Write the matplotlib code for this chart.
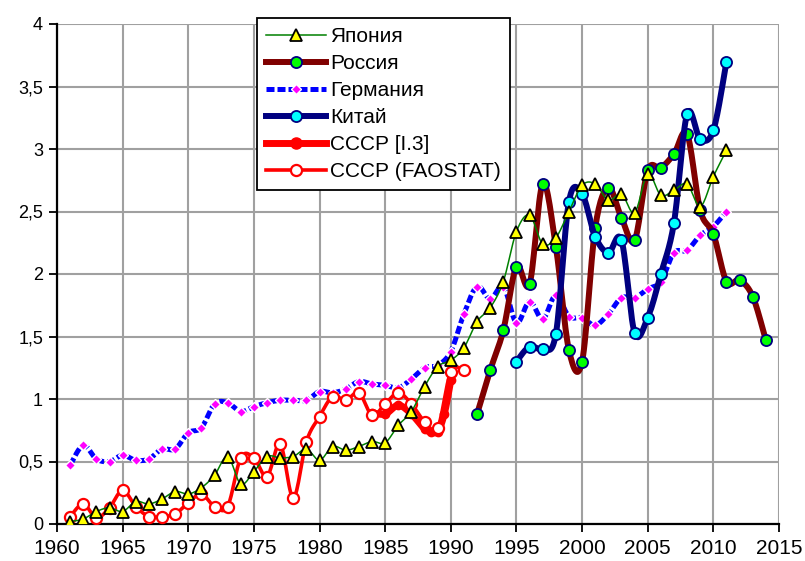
import numpy as np
import matplotlib
matplotlib.use("Agg")
import matplotlib.pyplot as plt
from matplotlib.ticker import FuncFormatter

plt.rcParams['font.family'] = ['Liberation Sans', 'DejaVu Sans']

# ---- data ----
years_japan = list(range(1961, 2012))
japan = [0.02, 0.04, 0.10, 0.13, 0.10, 0.18, 0.16, 0.20, 0.26, 0.24,
         0.29, 0.39, 0.54, 0.32, 0.42, 0.54, 0.53, 0.54, 0.60, 0.51,
         0.62, 0.59, 0.62, 0.66, 0.65, 0.79, 0.90, 1.10, 1.26, 1.31,
         1.41, 1.62, 1.73, 1.94, 2.34, 2.47, 2.24, 2.29, 2.50, 2.71,
         2.72, 2.59, 2.64, 2.49, 2.80, 2.63, 2.67, 2.72, 2.54, 2.78,
         2.99]

years_russia = list(range(1992, 2015))
russia = [0.88, 1.23, 1.55, 2.06, 1.92, 2.72, 2.22, 1.39, 1.30, 2.37,
          2.69, 2.45, 2.27, 2.83, 2.85, 2.96, 3.12, 2.51, 2.32, 1.94,
          1.95, 1.82, 1.47]

years_germany = list(range(1961, 2012))
germany = [0.47, 0.63, 0.52, 0.50, 0.55, 0.51, 0.52, 0.60, 0.60, 0.73,
           0.77, 0.96, 0.97, 0.90, 0.94, 0.97, 0.99, 0.99, 0.99, 1.06,
           1.05, 1.08, 1.14, 1.12, 1.11, 1.09, 1.16, 1.25, 1.27, 1.38,
           1.68, 1.90, 1.80, 1.90, 1.61, 1.78, 1.64, 1.83, 1.66, 1.65,
           1.59, 1.68, 1.81, 1.81, 1.88, 1.94, 2.17, 2.19, 2.31, 2.38,
           2.50]

years_china = list(range(1995, 2012))
china = [1.30, 1.42, 1.40, 1.52, 2.58, 2.64, 2.30, 2.17, 2.27, 1.53,
         1.65, 2.00, 2.41, 3.28, 3.08, 3.15, 3.70]

years_ussr_i3 = [1984, 1985, 1986, 1987, 1988, 1988.5, 1989, 1989.5, 1990]
ussr_i3 = [0.89, 0.88, 0.95, 0.88, 0.76, 0.74, 0.74, 0.88, 1.15]

years_ussr_fao = list(range(1961, 1992))
ussr_fao = [0.06, 0.16, 0.05, 0.13, 0.27, 0.14, 0.06, 0.06, 0.08, 0.17,
            0.24, 0.14, 0.14, 0.53, 0.53, 0.38, 0.64, 0.21, 0.66, 0.86,
            1.02, 0.99, 1.05, 0.87, 0.96, 1.05, 0.96, 0.82, 0.77, 1.22,
            1.23]


# Excel-like smoothed line (Catmull-Rom through the points)
def smooth(x, y, n=16):
    x = np.asarray(x, float)
    y = np.asarray(y, float)
    px = np.concatenate([[x[0]], x, [x[-1]]])
    py = np.concatenate([[y[0]], y, [y[-1]]])
    t = np.linspace(0, 1, n)
    xs, ys = [], []
    for i in range(len(x) - 1):
        x0, x1, x2, x3 = px[i:i + 4]
        y0, y1, y2, y3 = py[i:i + 4]
        cx1, cy1 = x1 + (x2 - x0) / 6, y1 + (y2 - y0) / 6
        cx2, cy2 = x2 - (x3 - x1) / 6, y2 - (y3 - y1) / 6
        b0 = (1 - t) ** 3
        b1 = 3 * (1 - t) ** 2 * t
        b2 = 3 * (1 - t) * t ** 2
        b3 = t ** 3
        xs.append(b0 * x1 + b1 * cx1 + b2 * cx2 + b3 * x2)
        ys.append(b0 * y1 + b1 * cy1 + b2 * cy2 + b3 * y2)
    return np.concatenate(xs), np.concatenate(ys)


fig = plt.figure(figsize=(8.05, 5.61), dpi=100)
ax = fig.add_axes([57 / 805, 37 / 561, 722 / 805, 500 / 561])


def series(x, y, label, z, lw, color, ls='-', marker='o', ms=7,
           mfc='w', mec='k', mew=1.2, leg_ms=None):
    sx, sy = smooth(x, y)
    ax.plot(sx, sy, color=color, lw=lw, ls=ls, zorder=z,
            solid_capstyle='round', dash_capstyle='butt')
    ax.plot(x, y, ls='none', marker=marker, ms=ms, mfc=mfc, mec=mec,
            mew=mew, zorder=z + 0.5)
    # proxy for the legend
    return ax.plot([], [], color=color, lw=lw, ls=ls, marker=marker,
                   ms=leg_ms or ms, mfc=mfc, mec=mec, mew=mew,
                   label=label)[0]


h_de = series(years_germany, germany, 'Германия', 3, 3.6, '#0000ff',
              ls=(0, (1.6, 0.6)), marker='D', ms=5.5, mfc='#ff00ff',
              mec='white', mew=1.0)
h_ru = series(years_russia, russia, 'Россия', 4, 4.3, '#800000',
              marker='o', ms=8, mfc='#00ff00', mec='#000080', mew=1.3)
h_cn = series(years_china, china, 'Китай', 5, 4.3, '#000080',
              marker='o', ms=8, mfc='#00ffff', mec='#000080', mew=1.3)
h_i3 = series(years_ussr_i3, ussr_i3, 'СССР [I.3]', 6, 5.0, '#ff0000',
              marker='o', ms=6, mfc='#ff0000', mec='#ff0000', mew=1,
              leg_ms=8)
h_fao = series(years_ussr_fao, ussr_fao, 'СССР (FAOSTAT)', 7, 2.6, '#ff0000',
               marker='o', ms=8, mfc='white', mec='#ff0000', mew=1.6)
h_jp = series(years_japan, japan, 'Япония', 8, 1.1, '#008000',
              marker='^', ms=9, mfc='#ffff00', mec='black', mew=1.3)

ax.set_xlim(1960, 2015)
ax.set_ylim(0, 4)
ax.set_xticks(np.arange(1960, 2016, 5))
ax.set_yticks(np.arange(0, 4.01, 0.5))
ax.yaxis.set_major_formatter(FuncFormatter(
    lambda v, p: ('%g' % v).replace('.', ',')))

ax.grid(True, color='#a0a0a0', lw=1.5)
ax.set_axisbelow(True)
for s in ['top', 'right']:
    ax.spines[s].set_visible(False)
for s in ['left', 'bottom']:
    ax.spines[s].set_linewidth(1.6)
    ax.spines[s].set_color('black')

ax.tick_params(axis='both', direction='out', length=6, width=1.3,
               colors='black')
ax.tick_params(axis='y', labelsize=13, pad=4)
ax.tick_params(axis='x', labelsize=13, pad=5)
for lab in ax.get_xticklabels():
    lab.set_family(['Liberation Sans Narrow', 'Liberation Sans'])
    lab.set_fontsize(15)

leg = fig.legend(handles=[h_jp, h_ru, h_de, h_cn, h_i3, h_fao],
                 loc='upper left', bbox_to_anchor=(257 / 805, 1 - 18 / 561),
                 borderaxespad=0, fontsize=15, numpoints=1,
                 handlelength=2.85, handletextpad=0.2, labelspacing=0.38,
                 borderpad=0.45, fancybox=False, framealpha=1,
                 edgecolor='black')
leg.get_frame().set_linewidth(1.3)

fig.savefig('out.png', dpi=100)
